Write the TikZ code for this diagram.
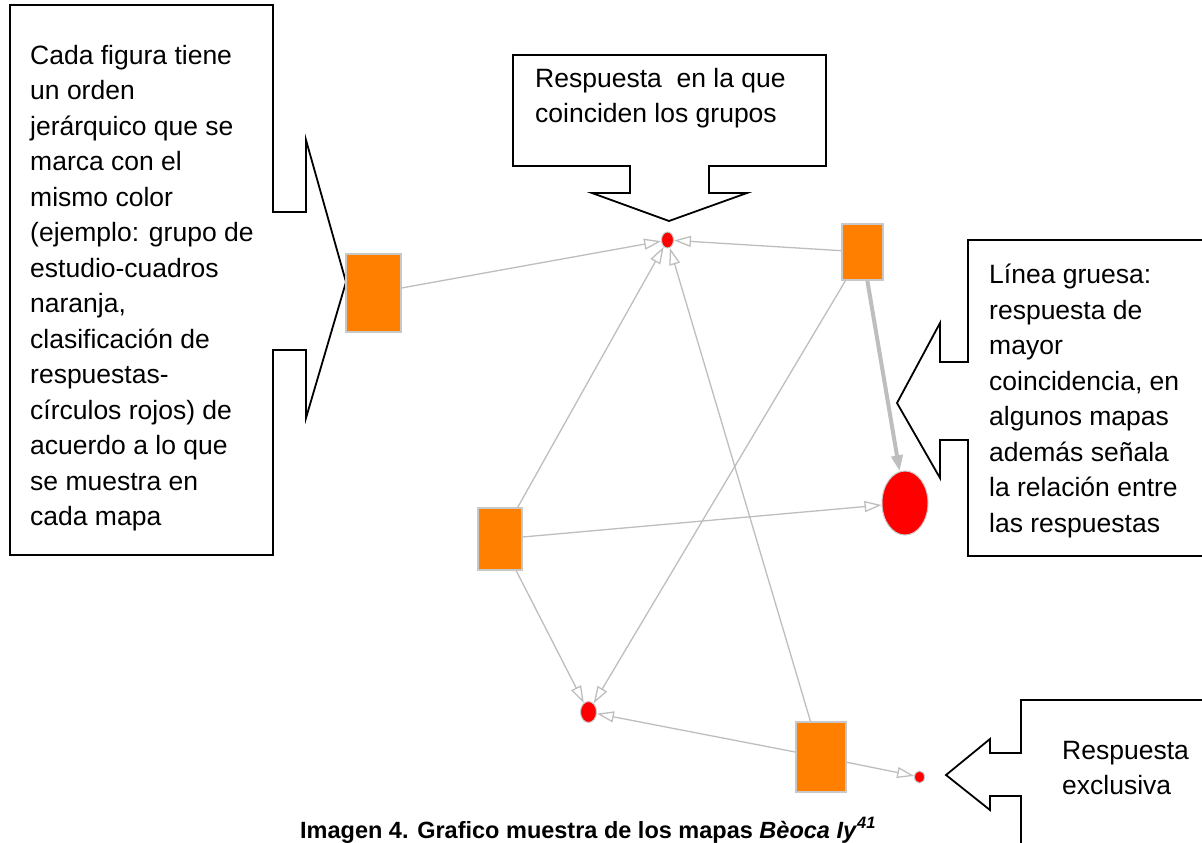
\documentclass[tikz,border=0pt]{standalone}
\usepackage{fontspec}
\setmainfont{Liberation Sans}
\usetikzlibrary{arrows.meta,shapes.geometric}
\definecolor{orng}{RGB}{255,128,0}
\definecolor{rd}{RGB}{255,0,0}
\definecolor{nodeedge}{RGB}{200,200,200}
\definecolor{edgegray}{RGB}{190,190,190}
\begin{document}
\begin{tikzpicture}[x=1pt,y=-1pt,
  sq/.style={draw=nodeedge,line width=1.5pt,fill=orng,inner sep=0,rectangle},
  dot/.style={draw=nodeedge,line width=1pt,fill=rd,inner sep=0,ellipse},
  link/.style={draw=edgegray,line width=1.3pt,-{Triangle[open,length=17pt,width=11pt,fill=white]}},
  thicklink/.style={draw=edgegray,line width=4pt,-{Triangle[length=16pt,width=11pt]}},
  callout/.style={draw=black,line width=1.8pt,line join=miter},
  ctext/.style={anchor=north west,inner sep=0,align=left,font=\fontsize{26.5}{35.5}\selectfont}]
\useasboundingbox (0,0) rectangle (1202,843);
\clip (0,0) rectangle (1202,843);
\fill[white] (0,0) rectangle (1202,843);

% callouts
\draw[callout] (273,212) -- (306,212) -- (306,140) -- (346,282) -- (306,418) -- (306,350) -- (273,350)
  -- (273,555) -- (10,555) -- (10,5) -- (273,5) -- cycle;
\draw[callout] (513,55) -- (826,55) -- (826,166) -- (709,166) -- (709,193) -- (747,193) -- (669,221)
  -- (592,193) -- (630,193) -- (630,166) -- (513,166) -- cycle;
\draw[callout] (1220,240) -- (968,240) -- (968,362) -- (940,362) -- (940,323) -- (897,403) -- (940,478)
  -- (940,440) -- (968,440) -- (968,556) -- (1220,556);
\draw[callout] (1220,700) -- (1021,700) -- (1021,753) -- (990,753) -- (990,739) -- (946,775) -- (990,810)
  -- (990,796) -- (1021,796) -- (1021,860);

\node[ctext] (t1) at (30,45) {Cada figura tiene\\un orden\\jerárquico que se\\marca con el\\mismo color\\(ejemplo: grupo de\\estudio-cuadros\\naranja,\\clasificación de\\respuestas-\\círculos rojos) de\\acuerdo a lo que\\se muestra en\\cada mapa};
\node[ctext] (t2) at (535,68) {Respuesta\ \ en la que\\coinciden los grupos};
\node[ctext] (t3) at (989,264) {Línea gruesa:\\respuesta de\\mayor\\coincidencia, en\\algunos mapas\\además señala\\la relación entre\\las respuestas};
\node[ctext] (t4) at (1062,741) {Respuesta\\exclusiva};

% graph nodes
\node[sq,minimum width=55pt,minimum height=78pt] (s1) at (373.5,293) {};
\node[sq,minimum width=41pt,minimum height=56pt] (s2) at (862.5,252) {};
\node[sq,minimum width=44pt,minimum height=62pt] (s3) at (500,539) {};
\node[sq,minimum width=50pt,minimum height=70pt] (s4) at (821,757) {};
\node[dot,minimum width=12pt,minimum height=16pt] (r1) at (667.5,240) {};
\node[dot,minimum width=46pt,minimum height=64pt] (r2) at (905,503) {};
\node[dot,minimum width=16pt,minimum height=21pt] (r3) at (588.5,712) {};
\node[dot,minimum width=10pt,minimum height=12pt] (r4) at (919.5,777) {};

% edges
\draw[link] (s1) -- (r1);
\draw[link] (s2) -- (r1);
\draw[link] (s3) -- (r1);
\draw[link] (s4) -- (r1);
\draw[link] (s3) -- (r2);
\draw[link] (s2) -- (r3);
\draw[link] (s3) -- (r3);
\draw[link] (s4) -- (r3);
\draw[link] (s4) -- (r4);
\draw[thicklink] (s2) -- (r2);

% caption
\node[anchor=base west,inner sep=0,font=\fontsize{23.5}{27}\selectfont\bfseries] (cap) at (300,838)
  {Imagen 4. Grafico muestra de los mapas \textit{Bèoca Iy}\textsuperscript{\textit{41}}};
\end{tikzpicture}
\end{document}
